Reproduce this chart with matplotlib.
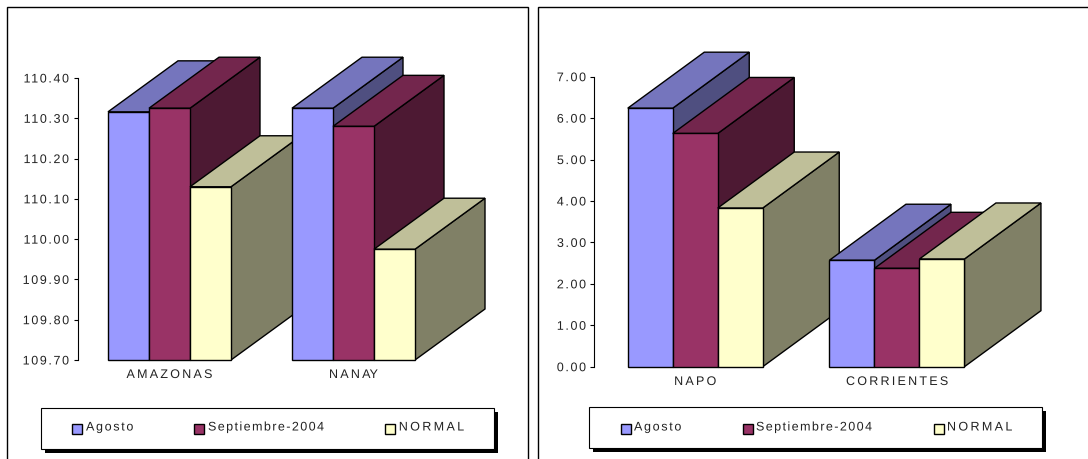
import numpy as np
import matplotlib
matplotlib.use("Agg")
import matplotlib.pyplot as plt
from matplotlib.patches import Polygon, Rectangle
from matplotlib.path import Path
from matplotlib.patheffects import AbstractPathEffect

plt.rcParams['font.family'] = ['Liberation Sans', 'DejaVu Sans']

W, H = 1088, 459

series = ['Agosto', 'Septiembre-2004', 'NORMAL']
series_tracking = [0.135, 0.115, 0.19]
front_colors = ['#9999FF', '#993366', '#FFFFCC']
top_colors = ['#7575BD', '#73264D', '#BFBF99']
side_colors = ['#4F4F80', '#4D1933', '#808066']

cats_left = ['AMAZONAS', 'NANAY']
agosto_left = [110.316, 110.325]
septiembre_left = [110.325, 110.28]
normal_left = [110.13, 109.975]
ticks_left = [109.7, 109.8, 109.9, 110.0, 110.1, 110.2, 110.3, 110.4]

cats_right = ['NAPO', 'CORRIENTES']
agosto_right = [6.24, 2.57]
septiembre_right = [5.63, 2.375]
normal_right = [3.83, 2.6]
ticks_right = [0, 1, 2, 3, 4, 5, 6, 7]

FONT_SIZE = 9


class Tracking(AbstractPathEffect):
    # letter spacing for text, matplotlib has none. em is relative to the font size
    def __init__(self, em, anchor='left'):
        super().__init__()
        self.em = em
        self.anchor = anchor

    def draw_path(self, renderer, gc, tpath, affine, rgbFace=None):
        verts = tpath.vertices.copy()
        codes = tpath.codes
        starts = list(np.flatnonzero(codes == Path.MOVETO)) + [len(codes)]
        contours = []
        for a, b in zip(starts[:-1], starts[1:]):
            xs = verts[a:b][codes[a:b] != Path.CLOSEPOLY, 0]
            contours.append((xs.min(), xs.max(), a, b))
        contours.sort()

        # contours overlapping in x belong to the same glyph (o, i, 0 ...)
        glyph, right = -1, -np.inf
        for xmin, xmax, a, b in contours:
            if xmin >= right:
                glyph += 1
            right = max(right, xmax)
            verts[a:b, 0] += glyph * self.em * 100  # text paths are 100 units per em
        extra = glyph * self.em * 100
        if self.anchor == 'center':
            verts[:, 0] -= extra / 2
        elif self.anchor == 'right':
            verts[:, 0] -= extra
        renderer.draw_path(gc, Path(verts, codes), affine, rgbFace)


def fig_rect(x0, x1, ytop, ybot):
    return [x0 / W, 1 - ybot / H, (x1 - x0) / W, (ybot - ytop) / H]


def draw_chart(fig, box, cats, values, ticks, bar_px, depth_px, label_y):
    x0, x1, ytop, ybot = box
    ax = fig.add_axes(fig_rect(x0, x1, ytop, ybot))
    ax.patch.set_alpha(0)
    ymin, ymax = ticks[0], ticks[-1]
    ax.set_xlim(-0.5, len(cats) - 0.5)
    ax.set_ylim(ymin, ymax)

    bw = bar_px / ((x1 - x0) / len(cats))
    dx = depth_px[0] / ((x1 - x0) / len(cats))
    dy = depth_px[1] / ((ybot - ytop) / (ymax - ymin))

    for g in range(len(cats)):
        for s, vals in enumerate(values):
            left = g - 1.5 * bw + s * bw
            right = left + bw
            v = vals[g]
            faces = [
                ([(right, ymin), (right + dx, ymin + dy), (right + dx, v + dy), (right, v)], side_colors[s]),
                ([(left, v), (left + dx, v + dy), (right + dx, v + dy), (right, v)], top_colors[s]),
                ([(left, ymin), (right, ymin), (right, v), (left, v)], front_colors[s]),
            ]
            for pts, c in faces:
                ax.add_patch(Polygon(pts, closed=True, facecolor=c, edgecolor='black',
                                     linewidth=1.0, clip_on=False, joinstyle='miter'))

    for side in ['top', 'right', 'bottom']:
        ax.spines[side].set_visible(False)
    ax.spines['left'].set_linewidth(0.8)
    ax.set_yticks(ticks)
    ax.set_yticklabels(['%.2f' % t for t in ticks], fontsize=FONT_SIZE, color='#222222')
    for lab in ax.get_yticklabels():
        lab.set_path_effects([Tracking(0.13, 'right')])
    ax.tick_params(axis='y', length=3, width=0.8, pad=3)
    ax.set_xticks([])
    for g, c in enumerate(cats):
        ax.text(g, 1 - (label_y - ytop) / (ybot - ytop), c, transform=ax.get_xaxis_transform(),
                ha='center', va='center', fontsize=FONT_SIZE, color='#222222',
                path_effects=[Tracking(0.18, 'center')])
    return ax


def draw_legend(bg, box, marker_x, text_x):
    x0, x1, ytop, ybot = box
    bg.add_patch(Rectangle((x0 + 4, ytop + 4), x1 - x0, ybot - ytop, facecolor='black', edgecolor='none'))
    bg.add_patch(Rectangle((x0, ytop), x1 - x0, ybot - ytop, facecolor='white', edgecolor='black', linewidth=0.8))
    for i, name in enumerate(series):
        bg.add_patch(Rectangle((marker_x[i], 424), 10, 10, facecolor=front_colors[i],
                               edgecolor='black', linewidth=1.0))
        bg.text(text_x[i], 430.5, name, ha='left', va='baseline', fontsize=FONT_SIZE, color='#222222',
                path_effects=[Tracking(series_tracking[i])])


fig = plt.figure(figsize=(W / 100, H / 100), dpi=100)

bg = fig.add_axes([0, 0, 1, 1])
bg.set_xlim(0, W)
bg.set_ylim(H, 0)
bg.axis('off')

# panel frames run off the bottom of the picture
bg.add_patch(Rectangle((6.5, 7), 521, H, facecolor='white', edgecolor='black', linewidth=1))
bg.add_patch(Rectangle((538, 7), W, H, facecolor='white', edgecolor='black', linewidth=1))

draw_chart(fig, (77.5, 445.5, 78, 360), cats_left,
           [agosto_left, septiembre_left, normal_left], ticks_left,
           41, (70, 51), 375)
draw_chart(fig, (594.4, 997.8, 76.7, 366.7), cats_right,
           [agosto_right, septiembre_right, normal_right], ticks_right,
           45, (76.5, 56), 382)

draw_legend(bg, (41.3, 494, 407.7, 449.3), [72.3, 194.2, 385], [86, 208, 398.8])
draw_legend(bg, (589.3, 1042, 406.7, 448.3), [620.7, 742.8, 933.6], [634, 756, 947])

fig.savefig('out.png', dpi=100)
plt.close(fig)
